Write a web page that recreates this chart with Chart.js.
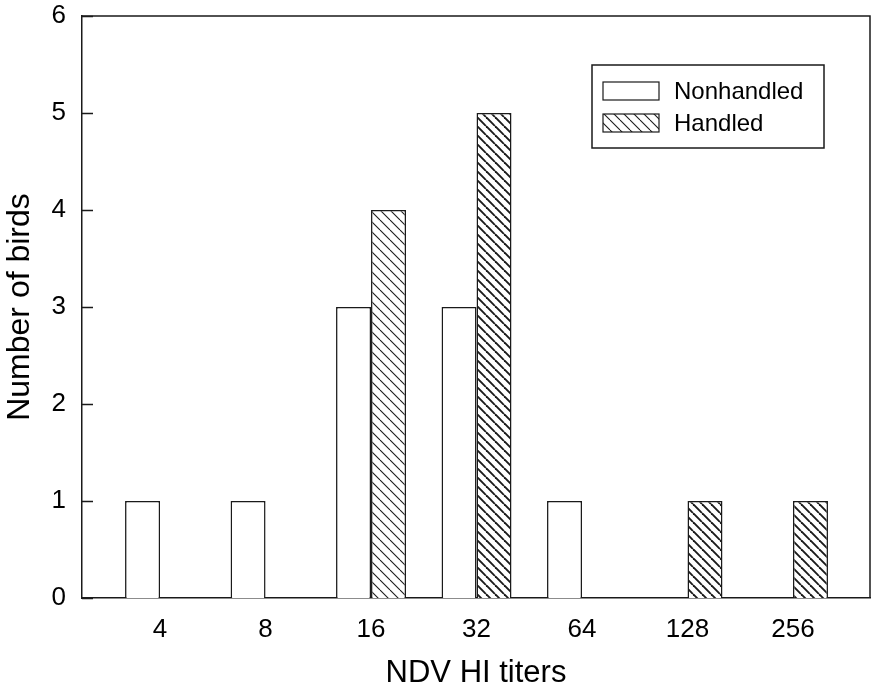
<!DOCTYPE html>
<html>
<head>
<meta charset="utf-8">
<script src="https://cdn.jsdelivr.net/npm/chart.js@4/dist/chart.umd.min.js"></script>
<style>
  html, body { margin: 0; padding: 0; background: #fff; }
  #wrap { width: 872px; height: 692px; }
</style>
</head>
<body>
<div id="wrap"><canvas id="hiChart" width="872" height="692"></canvas></div>
<script>
// NDV HI titers (x axis categories, plotted on a log scale)
const titers = [4, 8, 16, 32, 64, 128, 256];
// Number of birds per titer
const nonhandled = [1, 1, 3, 3, 1, 0, 0];
const handled = [0, 0, 4, 5, 0, 1, 1];
// Y axis ticks
const yTicks = [0, 1, 2, 3, 4, 5, 6];

const INK = "#1a1a1a";
const FONT = "'Liberation Sans', Arial, Helvetica, sans-serif";

/**
 * Build a diagonal hatch pattern (lines running top-left to bottom-right)
 */
function hatch(size, lineWidth) {
  const c = document.createElement("canvas");
  c.width = size;
  c.height = size;
  const g = c.getContext("2d");
  g.fillStyle = "#fff";
  g.fillRect(0, 0, size, size);
  g.strokeStyle = INK;
  g.lineWidth = lineWidth;
  [-size, 0, size].forEach((o) => {
    g.beginPath();
    g.moveTo(o, 0);
    g.lineTo(o + size, size);
    g.stroke();
  });
  return g.createPattern(c, "repeat");
}

const ctx = document.getElementById("hiChart").getContext("2d");
const denseHatch = hatch(9, 1.9);
const lightHatch = hatch(10, 1.1);

// zero counts are simply not drawn
const toPoints = (arr) =>
  titers.map((t, i) => ({ x: t, y: arr[i] === 0 ? null : arr[i] }));

// Frame (top + right), inward y ticks
const framePlugin = {
  id: "frame",
  afterDraw(chart) {
    const { ctx, chartArea: a, scales } = chart;
    ctx.save();
    ctx.strokeStyle = INK;
    ctx.lineWidth = 1.5;
    ctx.beginPath();
    ctx.moveTo(a.left, a.top);
    ctx.lineTo(a.right, a.top);
    ctx.lineTo(a.right, a.bottom);
    ctx.stroke();
    ctx.beginPath();
    scales.y.ticks.forEach((t) => {
      const y = Math.round(scales.y.getPixelForValue(t.value)) + 0.5;
      ctx.moveTo(a.left, y);
      ctx.lineTo(a.left + 11, y);
    });
    ctx.stroke();
    ctx.restore();
  },
};

// Boxed legend inside the plot area
const boxLegend = {
  id: "boxLegend",
  afterDraw(chart) {
    const { ctx, chartArea: a } = chart;
    const x0 = a.right - 278;
    const y0 = a.top + 49;
    const w = 232;
    const h = 83;
    ctx.save();
    ctx.strokeStyle = INK;
    ctx.lineWidth = 1.5;
    ctx.fillStyle = "#fff";
    ctx.fillRect(x0, y0, w, h);
    ctx.strokeRect(x0, y0, w, h);
    const swatches = [
      { y: y0 + 17, fill: "#fff" },
      { y: y0 + 49, fill: lightHatch },
    ];
    chart.data.datasets.forEach((ds, i) => {
      const s = swatches[i];
      ctx.fillStyle = s.fill;
      ctx.fillRect(x0 + 11, s.y, 56, 18);
      ctx.lineWidth = 1.2;
      ctx.strokeRect(x0 + 11, s.y, 56, 18);
      ctx.fillStyle = "#000";
      ctx.font = "24px " + FONT;
      ctx.textBaseline = "middle";
      ctx.fillText(ds.label, x0 + 82, s.y + 10);
    });
    ctx.restore();
  },
};

new Chart(ctx, {
  type: "bar",
  data: {
    datasets: [
      {
        label: "Nonhandled",
        data: toPoints(nonhandled),
        backgroundColor: "#fff",
        borderColor: INK,
        borderWidth: 1.5,
        borderSkipped: "bottom",
      },
      {
        label: "Handled",
        data: toPoints(handled),
        backgroundColor: (c) => (c.dataIndex === 2 ? lightHatch : denseHatch),
        borderColor: INK,
        borderWidth: 1.5,
        borderSkipped: "bottom",
      },
    ],
  },
  options: {
    responsive: false,
    animation: false,
    categoryPercentage: 0.663,
    barPercentage: 1.0,
    layout: { padding: { top: 16, right: 2, left: 0, bottom: 0 } },
    plugins: {
      legend: { display: false },
      tooltip: { enabled: false },
    },
    scales: {
      x: {
        type: "logarithmic",
        offset: false,
        min: 2 ** 1.26,
        max: 2 ** 8.73,
        afterBuildTicks: (scale) => {
          scale.ticks = titers.map((t) => ({ value: t }));
        },
        afterFit: (scale) => {
          scale.height = 94;
          scale.paddingLeft = 0;
          scale.paddingRight = 0;
        },
        grid: { display: false, drawTicks: false },
        border: { display: true, color: INK, width: 1.5 },
        ticks: {
          color: "#000",
          padding: 16,
          font: { family: FONT, size: 26 },
          maxRotation: 0,
          autoSkip: false,
          callback: (v) => String(v),
        },
        title: {
          display: true,
          text: "NDV HI titers",
          color: "#000",
          font: { family: FONT, size: 31, lineHeight: 1 },
          padding: { bottom: 3 },
        },
      },
      y: {
        min: 0,
        max: 6,
        afterBuildTicks: (scale) => {
          scale.ticks = yTicks.map((v) => ({ value: v }));
        },
        afterFit: (scale) => {
          scale.width = 82;
          scale.paddingTop = 0;
          scale.paddingBottom = 0;
        },
        grid: { display: false, drawTicks: false },
        border: { display: true, color: INK, width: 1.5 },
        ticks: {
          color: "#000",
          padding: 16,
          font: { family: FONT, size: 26 },
        },
        title: {
          display: true,
          text: "Number of birds",
          color: "#000",
          font: { family: FONT, size: 32, lineHeight: 1 },
          padding: { top: 4 },
        },
      },
    },
  },
  plugins: [framePlugin, boxLegend],
});
</script>
</body>
</html>
